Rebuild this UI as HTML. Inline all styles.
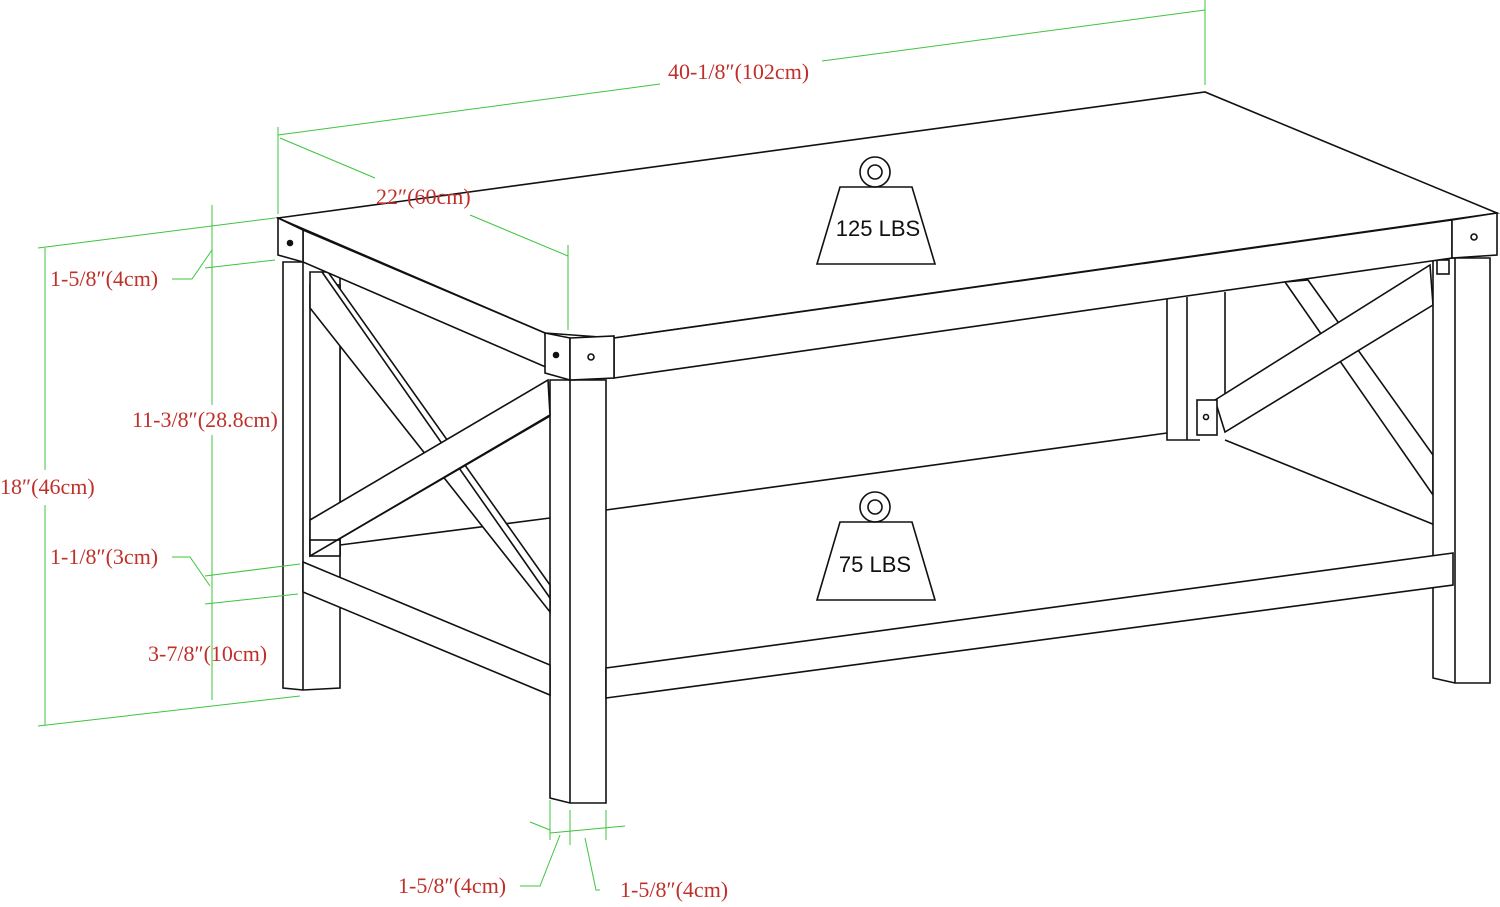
<!DOCTYPE html>
<html><head><meta charset="utf-8"><style>
html,body{margin:0;padding:0;background:#fff;width:1500px;height:907px;overflow:hidden}
svg{display:block}
.k{stroke:#111;stroke-width:1.6;fill:none}
.w{stroke:#111;stroke-width:1.6;fill:#fff}
.g{stroke:#3ec43e;stroke-width:1;fill:none}
.t{font-family:"Liberation Serif",serif;font-size:22px;fill:#c0302a}
</style></head><body>
<svg width="1500" height="907" viewBox="0 0 1500 907" xmlns="http://www.w3.org/2000/svg">
<g class="k">
<line x1="340" y1="545" x2="550" y2="518"/>
<line x1="606" y1="510" x2="1167" y2="433"/>
<line x1="1225" y1="440" x2="1435" y2="525"/>
<polyline points="1167,297 1167,440 1200,440"/>
<line x1="1187" y1="297" x2="1187" y2="440"/>
<line x1="1225" y1="292" x2="1225" y2="410"/>
<!-- right X brace -->
<polygon class="w" points="1285,282 1308,280 1433,455 1433,495"/>
<polygon class="w" points="1215,400 1430,265 1433,305 1225,432"/>
<rect class="w" x="1197" y="400" width="20" height="35"/>
<circle cx="1206" cy="417" r="2.5"/>
</g>
<!-- legs -->
<g class="k">
<polygon class="w" points="283,262 340,262 340,688 303,690 283,688"/>
<line x1="303" y1="262" x2="303" y2="690"/>
<polygon class="w" points="550,380 606,380 606,803 570,803 550,798"/>
<line x1="570" y1="380" x2="570" y2="803"/>
<polygon class="w" points="1433,258 1490,258 1490,683 1455,683 1433,678"/>
<line x1="1455" y1="258" x2="1455" y2="683"/>
<rect class="w" x="1437" y="260" width="12" height="14"/>
</g>
<!-- shelf -->
<g class="k">
<polygon class="w" points="303,562 550,665 550,695 303,592"/>
<polygon class="w" points="606,668 1453,553 1453,585 606,698"/>
</g>
<!-- left X brace -->
<g class="k">
<rect class="w" x="310" y="285" width="30" height="270"/>
<polygon class="w" points="310,272 328,272 550,585 550,612 310,308"/>
<line x1="322" y1="272" x2="550" y2="598"/>
<polygon class="w" points="310,520 548,380 550,415 310,556"/>
<rect class="w" x="310" y="540" width="30" height="16"/>
<line x1="310" y1="556" x2="550" y2="416"/>
</g>
<!-- top -->
<g class="k">
<polygon class="w" points="278,218 1205,92 1497,213 614,338 545,333"/>
<polygon class="w" points="303,230 545,333 548,368 303,262"/>
<polygon class="w" points="614,338 1452,220 1452,258 614,378"/>
<polygon class="w" points="278,218 303,230 303,262 278,255"/>
<polygon class="w" points="545,333 570,338 570,380 545,373"/>
<polygon class="w" points="570,338 614,336 614,378 570,380"/>
<polygon class="w" points="1452,220 1497,213 1497,255 1452,258"/>
<circle cx="290" cy="243" r="2.5" fill="#111"/>
<circle cx="556" cy="355" r="2.5" fill="#111"/>
<circle cx="591" cy="357" r="3"/>
<circle cx="1474" cy="237" r="3"/>
</g>
<!-- weights -->
<g class="k">
<circle cx="875" cy="172" r="15"/><circle cx="875" cy="172" r="7"/>
<polygon points="840,187 912,187 935,264 817,264"/>
<circle cx="875" cy="507" r="15"/><circle cx="875" cy="507" r="7"/>
<polygon points="840,522 912,522 935,600 817,600"/>
</g>
<text x="878" y="236" font-family="Liberation Sans,sans-serif" font-size="22" text-anchor="middle" fill="#111">125 LBS</text>
<text x="875" y="572" font-family="Liberation Sans,sans-serif" font-size="22" text-anchor="middle" fill="#111">75 LBS</text>
<!-- dimensions -->
<g class="g">
<line x1="278" y1="135" x2="660" y2="84"/><line x1="822" y1="61" x2="1205" y2="10"/>
<line x1="278" y1="127" x2="278" y2="214"/><line x1="1205" y1="0" x2="1205" y2="85"/>
<line x1="280" y1="138" x2="375" y2="178"/><line x1="470" y1="215" x2="568" y2="256"/>
<line x1="568" y1="245" x2="568" y2="330"/>
<line x1="45" y1="248" x2="45" y2="470"/><line x1="45" y1="505" x2="45" y2="725"/>
<line x1="38" y1="248" x2="275" y2="218"/><line x1="38" y1="726" x2="300" y2="696"/>
<line x1="212" y1="205" x2="212" y2="405"/><line x1="212" y1="435" x2="212" y2="700"/>
<line x1="205" y1="268" x2="275" y2="260"/><line x1="205" y1="576" x2="300" y2="564"/>
<line x1="205" y1="604" x2="298" y2="594"/>
<polyline points="172,279 192,279 212,250"/>
<polyline points="172,557 190,557 210,586"/>
<line x1="530" y1="822" x2="550" y2="830"/><line x1="550" y1="800" x2="550" y2="840"/>
<line x1="570" y1="810" x2="570" y2="845"/><line x1="606" y1="810" x2="606" y2="840"/>
<line x1="550" y1="833" x2="625" y2="826"/>
<polyline points="520,886 540,886 560,835"/>
<polyline points="600,890 596,890 585,838"/>
</g>
<text class="t" x="668" y="79">40-1/8″(102cm)</text>
<text class="t" x="376" y="204">22″(60cm)</text>
<text class="t" x="50" y="286">1-5/8″(4cm)</text>
<text class="t" x="132" y="427">11-3/8″(28.8cm)</text>
<text class="t" x="0" y="494">18″(46cm)</text>
<text class="t" x="50" y="564">1-1/8″(3cm)</text>
<text class="t" x="148" y="661">3-7/8″(10cm)</text>
<text class="t" x="398" y="893">1-5/8″(4cm)</text>
<text class="t" x="620" y="897">1-5/8″(4cm)</text>
</svg>
</body></html>
